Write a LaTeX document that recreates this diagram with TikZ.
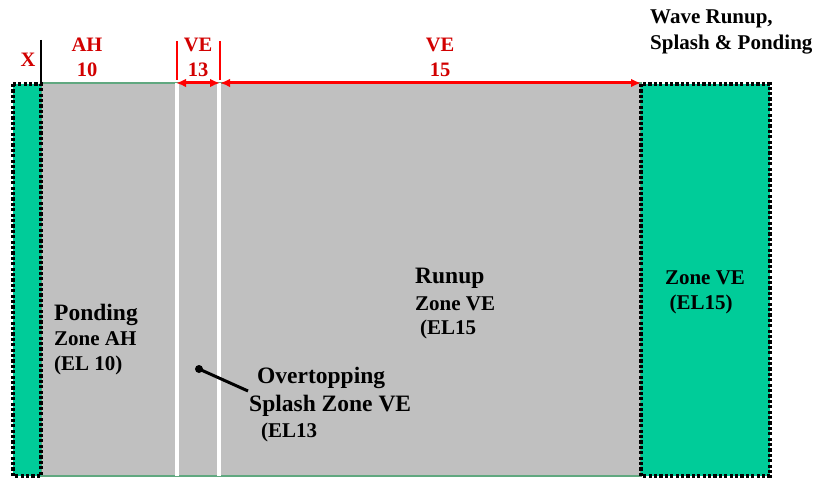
\documentclass[tikz,border=0pt]{standalone}
\usepackage{fontspec}
\setmainfont{Liberation Serif}
\usetikzlibrary{arrows.meta}
\definecolor{zonegreen}{RGB}{0,204,153}
\definecolor{zonegray}{RGB}{192,192,192}
\definecolor{edgegreen}{RGB}{96,168,128}
\definecolor{labred}{RGB}{210,0,0}
\definecolor{arrred}{RGB}{255,0,0}
\tikzset{
  dotbox/.style={fill=zonegreen, draw=black, line width=3.4pt, dash pattern=on 3.2pt off 2.2pt},
  redlab/.style={text=labred, font=\bfseries\fontsize{20.5}{22}\selectfont, inner sep=0pt, anchor=base},
  biglab/.style={font=\bfseries\fontsize{23.5}{26}\selectfont, inner sep=0pt, anchor=base west},
  midlab/.style={font=\bfseries\fontsize{21}{24}\selectfont, inner sep=0pt, anchor=base west},
  redbar/.style={draw=arrred, line width=2.5pt},
  redarrow/.style={draw=arrred, line width=3pt, {Latex[length=10pt,width=8.5pt]}-{Latex[length=10pt,width=8.5pt]}},
}
\begin{document}
\begin{tikzpicture}[x=1pt,y=-1pt]
\useasboundingbox (0,0) rectangle (818,478);
\fill[white] (0,0) rectangle (818,478);
% main gray field
\draw[edgegreen, line width=2pt, fill=zonegray] (41,83) rectangle (641,476);
\draw[white, line width=3.2pt] (177,83) -- (177,476);
\draw[white, line width=3.2pt] (219,83) -- (219,476);
% green strips
\draw[dotbox] (13,84) rectangle (41,476);
\draw[dotbox] (641,84) rectangle (770,476);
% separators above
\coordinate (xtop) at (41,40);
\coordinate (xbot) at (41,84);
\draw[black, line width=2.7pt] (xtop) -- (xbot);
\coordinate (p1t) at (177,41);
\coordinate (p1b) at (177,80);
\coordinate (p2t) at (220,41);
\coordinate (p2b) at (220,80);
\draw[redbar] (p1t) -- (p1b);
\draw[redbar] (p2t) -- (p2b);
\coordinate (a13) at (176,83);
\coordinate (b13) at (220,83);
\coordinate (e15) at (641,83);
\draw[redarrow] (a13) -- (b13);
\draw[redarrow] (b13) -- (e15);
% top labels
\node[redlab] (lx) at (28,67) {X};
\node[redlab] (lah) at (87,52) {AH};
\node[redlab] (l10) at (87,77) {10};
\node[redlab] (lve13) at (198,52) {VE};
\node[redlab] (l13) at (198,77) {13};
\node[redlab] (lve15) at (440,52) {VE};
\node[redlab] (l15) at (440,77) {15};
\node[midlab] (w1) at (650,24) {Wave Runup,};
\node[midlab] (w2) at (650,50) {Splash \& Ponding};
% zone labels
\node[biglab] (pond) at (54,320) {Ponding};
\node[midlab] (pz) at (54,345) {Zone AH};
\node[midlab] (pel) at (54,370) {(EL 10)};
\node[biglab] (run) at (415,283) {Runup};
\node[midlab] (rz) at (415,310) {Zone VE};
\node[midlab] (rel) at (420,334) {(EL15};
\node[biglab] (ov) at (257,383) {Overtopping};
\node[biglab] (ovs) at (249,411) {Splash Zone VE};
\node[midlab] (ovel) at (261,437) {(EL13};
\node[font=\bfseries\fontsize{21}{24}\selectfont, inner sep=0pt, anchor=base] (gz) at (705,284) {Zone VE};
\node[font=\bfseries\fontsize{21}{24}\selectfont, inner sep=0pt, anchor=base] (gel) at (701,309) {(EL15)};
% pointer
\coordinate (dot) at (199,369);
\coordinate (ptr) at (248,391);
\fill[black] (dot) circle (4pt);
\draw[black, line width=3pt] (dot) -- (ptr);
\end{tikzpicture}
\end{document}
